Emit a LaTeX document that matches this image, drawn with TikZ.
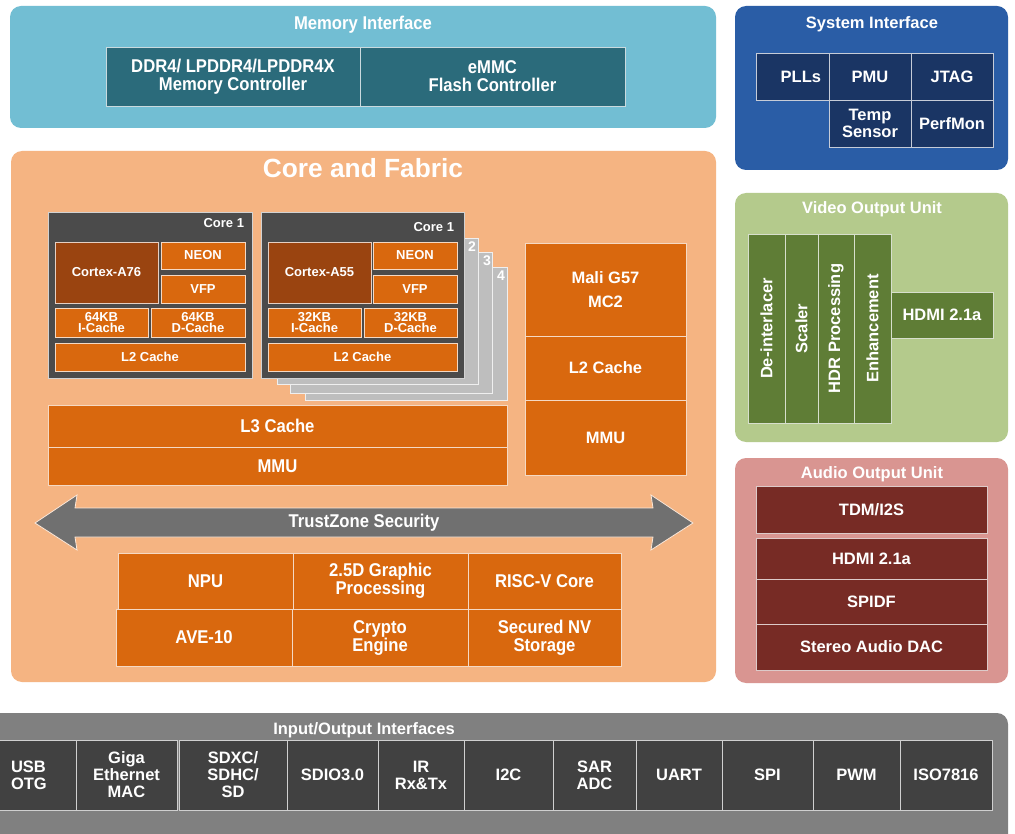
\documentclass[tikz,border=0pt]{standalone}
\usepackage{fontspec}
\setmainfont{Liberation Sans}
\newfontfamily\nfont{Liberation Sans}[FakeStretch=0.9]
\definecolor{memL}{HTML}{72BED3}
\definecolor{memD}{HTML}{2B6B7B}
\definecolor{sysL}{HTML}{2A5DA6}
\definecolor{sysD}{HTML}{1A3564}
\definecolor{vidL}{HTML}{B4CA8C}
\definecolor{vidD}{HTML}{5F7D36}
\definecolor{audL}{HTML}{D99591}
\definecolor{audD}{HTML}{772B25}
\definecolor{coreL}{HTML}{F5B482}
\definecolor{orng}{HTML}{D9680E}
\definecolor{brwn}{HTML}{9A4410}
\definecolor{cdark}{HTML}{4B4B4B}
\definecolor{stack}{HTML}{BEBEBE}
\definecolor{arrg}{HTML}{707070}
\definecolor{ioL}{HTML}{808080}
\definecolor{ioD}{HTML}{414141}
\newcommand{\blk}[7]{\node[#2, minimum width={(#5)-(#3)}, minimum height={(#6)-(#4)}] (#1) at ({((#3)+(#5))/2},{((#4)+(#6))/2}) {#7};}
\tikzset{
  x=1pt, y=-1pt,
  base/.style={inner sep=0pt, outer sep=0pt, align=center, text=white},
  panel/.style={base, rounded corners=11pt, fill=#1},
  cell/.style={base, fill=#1, draw=white!75!#1, line width=0.8pt},
  fbig/.style={font=\fontsize{16.5}{17}\selectfont\bfseries},
  fnar/.style={font=\nfont\fontsize{18.5}{18}\selectfont\bfseries},
  fsm/.style={font=\fontsize{13}{11}\selectfont\bfseries},
  ftitle/.style={text=white, inner sep=0pt, font=\fontsize{16.5}{17}\selectfont\bfseries},
  ntitle/.style={text=white, inner sep=0pt, font=\nfont\fontsize{18.5}{18}\selectfont\bfseries},
}
\begin{document}
\begin{tikzpicture}
\useasboundingbox (0,0) rectangle (1015,834);
\fill[white] (0,0) rectangle (1015,834);
% ---------- Memory interface
\blk{memP}{panel=memL}{10}{6}{716}{128}{}
\node[ntitle] (memT) at (363,25) {Memory Interface};
\blk{ddr}{cell=memD, fnar}{106}{47}{360}{106}{DDR4/ LPDDR4/LPDDR4X\\Memory Controller}
\blk{emmc}{cell=memD, fnar}{360}{47}{625}{106}{eMMC\\Flash Controller}
% ---------- System interface
\blk{sysP}{panel=sysL}{735}{6}{1008}{170}{}
\node[ftitle] (sysT) at (872,24) {System Interface};
\blk{plls}{cell=sysD, fbig, text width=73pt, align=right}{756}{53}{829}{100}{PLLs\hspace*{8pt}}
\blk{pmu}{cell=sysD, fbig}{829}{53}{911}{100}{PMU}
\blk{jtag}{cell=sysD, fbig}{911}{53}{993}{100}{JTAG}
\blk{temp}{cell=sysD, fbig}{829}{100}{911}{147}{Temp\\Sensor}
\blk{perf}{cell=sysD, fbig}{911}{100}{993}{147}{PerfMon}
% ---------- Video output
\blk{vidP}{panel=vidL}{735}{193}{1008}{442}{}
\node[ftitle] (vidT) at (872,209) {Video Output Unit};
\blk{deint}{cell=vidD}{748}{234}{785}{423}{}
\blk{scal}{cell=vidD}{785}{234}{818}{423}{}
\blk{hdr}{cell=vidD}{818}{234}{854}{423}{}
\blk{enh}{cell=vidD}{854}{234}{891}{423}{}
\node[base, fbig, rotate=90] (deintT) at (deint) {De-interlacer};
\node[base, fbig, rotate=90] (scalT) at (scal) {Scaler};
\node[base, fbig, rotate=90] (hdrT) at (hdr) {HDR Processing};
\node[base, fbig, rotate=90] (enhT) at (enh) {Enhancement};
\blk{vhdmi}{cell=vidD, fbig}{891}{292}{993}{338}{HDMI 2.1a}
% ---------- Audio output
\blk{audP}{panel=audL}{735}{458}{1008}{683}{}
\node[ftitle] (audT) at (872,474) {Audio Output Unit};
\blk{tdm}{cell=audD, fbig}{756}{486}{987}{533}{TDM/I2S}
\blk{ahdmi}{cell=audD, fbig}{756}{538}{987}{579}{HDMI 2.1a}
\blk{spdif}{cell=audD, fbig}{756}{579}{987}{624}{SPIDF}
\blk{dac}{cell=audD, fbig}{756}{624}{987}{670}{Stereo Audio DAC}
% ---------- Core and fabric
\blk{coreP}{panel=coreL}{11}{151}{716}{682}{}
\node[text=white, inner sep=0pt, font=\fontsize{26.3}{27}\selectfont\bfseries] (coreT) at (363,168) {Core and Fabric};
% big core cluster
\blk{c1}{cell=cdark}{48}{212}{252}{378}{}
\node[base, fsm, anchor=east] (c1T) at (244,223) {Core 1};
\blk{a76}{cell=brwn, fsm}{55}{242}{158}{303}{Cortex-A76}
\blk{neon1}{cell=orng, fsm}{161}{242}{245}{269}{NEON}
\blk{vfp1}{cell=orng, fsm}{161}{275}{245}{303}{VFP}
\blk{ic1}{cell=orng, fsm}{55}{308}{148}{337}{64KB\\I-Cache}
\blk{dc1}{cell=orng, fsm}{151}{308}{245}{337}{64KB\\D-Cache}
\blk{l2a}{cell=orng, fsm}{55}{343}{245}{371}{L2 Cache}
% little core cluster with stacked copies
\blk{s4}{cell=stack}{305}{267}{507}{400}{}
\blk{s3}{cell=stack}{290}{252}{492}{393}{}
\blk{s2}{cell=stack}{277}{238}{478}{384}{}
\node[base, font=\fontsize{14}{15}\selectfont\bfseries] (n2) at (472,247) {2};
\node[base, font=\fontsize{14}{15}\selectfont\bfseries] (n3) at (487,261) {3};
\node[base, font=\fontsize{14}{15}\selectfont\bfseries] (n4) at (501,276) {4};
\blk{c2}{cell=cdark}{261}{212}{464}{378}{}
\node[base, fsm, anchor=east] (c2T) at (454,227) {Core 1};
\blk{a55}{cell=brwn, fsm}{268}{242}{371}{303}{Cortex-A55}
\blk{neon2}{cell=orng, fsm}{373}{242}{457}{269}{NEON}
\blk{vfp2}{cell=orng, fsm}{373}{275}{457}{303}{VFP}
\blk{ic2}{cell=orng, fsm}{268}{308}{361}{337}{32KB\\I-Cache}
\blk{dc2}{cell=orng, fsm}{364}{308}{457}{337}{32KB\\D-Cache}
\blk{l2b}{cell=orng, fsm}{268}{343}{457}{371}{L2 Cache}
% GPU
\blk{mali}{cell=orng, font=\fontsize{16.5}{24}\selectfont\bfseries}{525}{243}{686}{336}{Mali G57\\MC2}
\blk{gl2}{cell=orng, fbig}{525}{336}{686}{400}{L2 Cache}
\blk{gmmu}{cell=orng, fbig}{525}{400}{686}{475}{MMU}
% L3 / MMU
\blk{l3}{cell=orng, fnar}{48}{405}{507}{447}{L3 Cache}
\blk{mmu}{cell=orng, fnar}{48}{447}{507}{485}{MMU}
% TrustZone arrow
\filldraw[fill=arrg, draw=white!70!coreL, line width=0.8pt]
  (35,523) -- (77,495) -- (75,508) -- (653,508) -- (651,495) -- (693,523)
  -- (651,550) -- (653,537) -- (75,537) -- (77,550) -- cycle;
\node[ntitle] (tz) at (364,523) {TrustZone Security};
% accelerators
\blk{npu}{cell=orng, fnar}{118}{553}{293}{609}{NPU}
\blk{g25}{cell=orng, fnar}{293}{553}{468}{609}{2.5D Graphic\\Processing}
\blk{risc}{cell=orng, fnar}{468}{553}{621}{609}{RISC-V Core}
\blk{ave}{cell=orng, fnar}{116}{609}{292}{666}{AVE-10}
\blk{cry}{cell=orng, fnar}{292}{609}{468}{666}{Crypto\\Engine}
\blk{snv}{cell=orng, fnar}{468}{609}{621}{666}{Secured NV\\Storage}
% ---------- IO interfaces
\fill[ioL, rounded corners=11pt] (-20,713) rectangle (1008,850);
\node[ftitle] (ioT) at (364,730) {Input/Output Interfaces};
\blk{usb}{cell=ioD, fbig, text width=60pt, align=left}{-10}{740}{76}{810}{\hspace*{8pt}USB\\\hspace*{8pt}OTG}
\blk{giga}{cell=ioD, fbig}{76}{740}{177}{810}{Giga\\Ethernet\\MAC}
\blk{sdxc}{cell=ioD, fbig}{179}{740}{287}{810}{SDXC/\\SDHC/\\SD}
\blk{sdio}{cell=ioD, fbig}{287}{740}{378}{810}{SDIO3.0}
\blk{ir}{cell=ioD, fbig}{378}{740}{464}{810}{IR\\Rx\&Tx}
\blk{i2c}{cell=ioD, fbig}{464}{740}{553}{810}{I2C}
\blk{sar}{cell=ioD, fbig}{553}{740}{636}{810}{SAR\\ADC}
\blk{uart}{cell=ioD, fbig}{636}{740}{722}{810}{UART}
\blk{spi}{cell=ioD, fbig}{722}{740}{813}{810}{SPI}
\blk{pwm}{cell=ioD, fbig}{813}{740}{900}{810}{PWM}
\blk{iso}{cell=ioD, fbig}{900}{740}{992}{810}{ISO7816}
\end{tikzpicture}
\end{document}
